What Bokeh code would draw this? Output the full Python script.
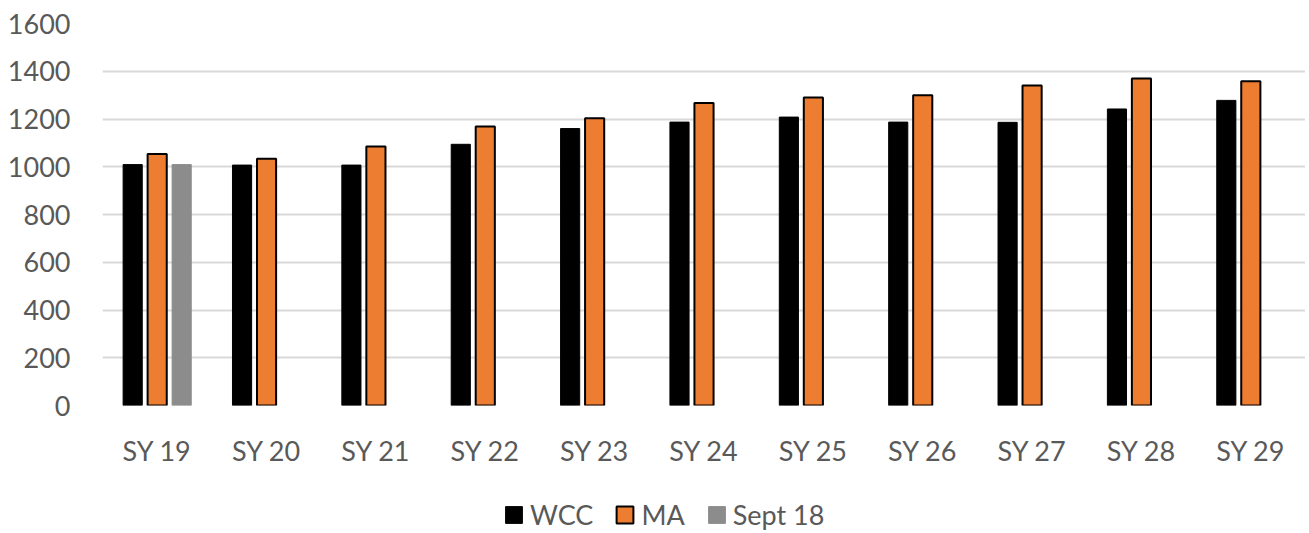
from bokeh.plotting import figure
from bokeh.layouts import column
from bokeh.models import ColumnDataSource, FactorRange, Range1d, Legend, LegendItem, SingleIntervalTicker
from bokeh.transform import dodge
from bokeh.embed import file_html
from bokeh.resources import INLINE

categories = ["SY 19", "SY 20", "SY 21", "SY 22", "SY 23", "SY 24", "SY 25", "SY 26", "SY 27", "SY 28", "SY 29"]
wcc = [1009, 1007, 1007, 1094, 1160, 1187, 1208, 1187, 1186, 1242, 1278]
ma = [1053, 1034, 1085, 1169, 1203, 1267, 1290, 1299, 1340, 1370, 1358]
sept18 = [1009, None, None, None, None, None, None, None, None, None, None]
series_names = ["WCC", "MA", "Sept 18"]

sept_vals = [v if v is not None else float("nan") for v in sept18]
src = ColumnDataSource(dict(cat=categories, wcc=wcc, ma=ma, sept=sept_vals))

FONT = "Lato"
GRAY_TXT = "#595959"
styles = [dict(fill_color="#000000", line_color="#000000", line_width=1),
          dict(fill_color="#ED7D31", line_color="#000000", line_width=2),
          dict(fill_color="#8C8C8C", line_color="#8C8C8C", line_width=1)]

p = figure(x_range=FactorRange(factors=categories, range_padding=0),
           y_range=Range1d(0, 1600),
           width=1305, height=475, output_backend="svg", toolbar_location=None,
           min_border_left=102, min_border_right=0, min_border_top=23, min_border_bottom=70)
p.outline_line_color = None
p.background_fill_color = "white"

w = 0.175
off = 0.224
p.vbar(x=dodge("cat", -off, range=p.x_range), top="wcc", width=w, source=src, **styles[0])
p.vbar(x=dodge("cat", 0, range=p.x_range), top="ma", width=w, source=src, **styles[1])
p.vbar(x=dodge("cat", off, range=p.x_range), top="sept", width=w, source=src, **styles[2])

p.yaxis.ticker = SingleIntervalTicker(interval=200)
p.ygrid.ticker = SingleIntervalTicker(interval=200)
p.ygrid.grid_line_color = "#D9D9D9"
p.ygrid.grid_line_width = 2
p.xgrid.grid_line_color = None

for ax in (p.xaxis, p.yaxis):
    ax.axis_line_color = None
    ax.major_tick_line_color = None
    ax.minor_tick_line_color = None
    ax.major_tick_out = 0
    ax.major_tick_in = 0
    ax.major_label_text_font = FONT
    ax.major_label_text_font_size = "27px"
    ax.major_label_text_color = GRAY_TXT
p.yaxis.major_label_standoff = 28
p.xaxis.major_label_standoff = 28

# legend strip
lg = figure(width=1305, height=58, output_backend="svg", toolbar_location=None,
            x_range=Range1d(0, 1), y_range=Range1d(0, 1),
            x_axis_type=None, y_axis_type=None,
            min_border=0)
lg.outline_line_color = None
lg.xgrid.visible = False
lg.ygrid.visible = False
items = []
for name, st in zip(series_names, styles):
    r = lg.vbar(x=[5], top=[0], width=0.1, **st)
    items.append(LegendItem(label=name, renderers=[r]))
legend = Legend(items=items, orientation="horizontal", location=(401, 2),
                glyph_width=21, glyph_height=21, label_standoff=6, spacing=21,
                padding=0, margin=0, border_line_color=None, background_fill_alpha=0,
                label_text_font=FONT, label_text_font_size="27px", label_text_color=GRAY_TXT)
lg.add_layout(legend, "center")

layout = column(p, lg, spacing=0)
open("out.html", "w").write(file_html(layout, INLINE))
